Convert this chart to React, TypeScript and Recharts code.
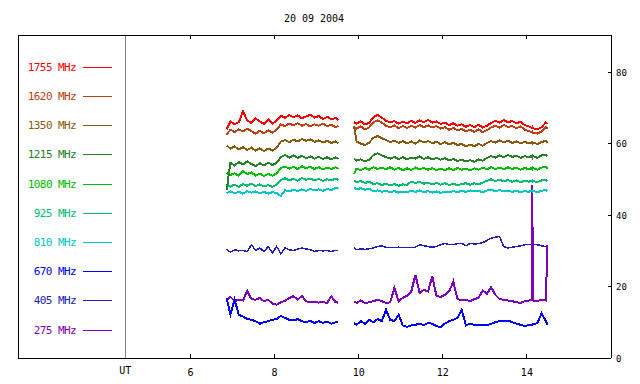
import React from "react";
import { LineChart, Line, XAxis, YAxis, ReferenceLine, Legend } from "recharts";

// UT hours; 9.7 is the data gap between the two observing runs
const hours = [
  6.86, 6.95, 7.05, 7.15, 7.25, 7.35, 7.45, 7.55, 7.65, 7.75,
  7.85, 7.95, 8.05, 8.15, 8.25, 8.35, 8.45, 8.55, 8.65, 8.75,
  8.85, 8.95, 9.05, 9.15, 9.25, 9.35, 9.45, 9.52,
  9.7,
  9.89, 9.95, 10.05, 10.15, 10.25, 10.35, 10.45, 10.55, 10.65, 10.75,
  10.85, 10.95, 11.05, 11.15, 11.25, 11.35, 11.45, 11.55, 11.65, 11.75,
  11.85, 11.95, 12.05, 12.15, 12.25, 12.35, 12.45, 12.55, 12.65, 12.75,
  12.85, 12.95, 13.05, 13.15, 13.25, 13.35, 13.45, 13.55, 13.65, 13.75,
  13.85, 13.95, 14.05, 14.12, 14.13, 14.14, 14.25, 14.35, 14.45, 14.49,
];

const f1755 = [
  64.0, 66.2, 65.4, 66.0, 69.0, 66.5, 65.8, 67.0, 66.2, 65.5,
  66.8, 65.6, 66.4, 67.8, 67.2, 68.0, 67.4, 67.9, 67.1, 67.6,
  68.1, 67.3, 67.7, 66.9, 67.5, 66.8, 67.2, 66.6,
  null,
  66.0, 65.6, 66.2, 65.4, 65.8, 67.4, 68.0, 67.3, 66.4, 65.9,
  66.3, 65.6, 66.1, 65.7, 66.4, 65.8, 66.5, 66.0, 66.6, 65.9,
  66.2, 65.5, 65.9, 65.2, 65.7, 65.0, 65.4, 64.7, 65.2, 64.6,
  65.3, 64.5, 65.0, 65.8, 66.4, 65.9, 66.6, 66.0, 66.3, 65.7,
  66.1, 65.2, 64.8, 64.4, 64.6, 64.3, 64.0, 64.6, 65.9, 65.5,
];
const f1620 = [
  62.5, 63.9, 63.2, 64.0, 63.4, 64.2, 63.5, 62.8, 63.6, 62.9,
  63.7, 63.1, 63.9, 65.4, 64.9, 65.6, 65.1, 65.7, 65.0, 65.5,
  64.8, 65.4, 65.0, 65.6, 64.9, 65.3, 64.6, 65.0,
  null,
  64.6, 64.2, 64.8, 64.0, 64.5, 66.0, 66.5, 65.9, 65.0, 64.6,
  65.1, 64.3, 64.9, 64.4, 65.0, 64.5, 65.2, 64.6, 65.1, 64.5,
  64.9, 64.2, 64.6, 63.9, 64.4, 63.7, 64.1, 63.4, 63.9, 63.3,
  64.0, 63.2, 63.8, 64.5, 65.0, 64.5, 65.2, 64.7, 64.9, 64.3,
  64.8, 63.9, 63.5, 63.1, 63.3, 63.0, 62.8, 63.4, 64.6, 64.2,
];
const f1350 = [
  59.5, 58.6, 59.2, 58.4, 59.0, 58.2, 58.9, 58.0, 58.7, 57.9,
  58.6, 58.1, 58.8, 60.6, 61.0, 60.4, 61.1, 60.6, 61.3, 60.8,
  61.2, 60.5, 60.9, 60.3, 60.8, 60.2, 60.6, 60.1,
  null,
  65.0, 60.6, 60.0, 59.6, 60.3, 61.6, 62.1, 61.5, 61.0, 60.4,
  60.8, 60.2, 60.7, 60.1, 60.6, 60.0, 60.9, 60.3, 60.7, 60.1,
  60.5, 59.9, 60.4, 59.8, 60.2, 59.6, 59.9, 59.2, 59.7, 59.3,
  59.9, 59.4, 60.2, 60.7, 60.3, 60.9, 60.4, 60.8, 60.2, 60.6,
  60.1, 60.5, 60.0, 60.4, 60.1, 60.3, 59.9, 60.5, 60.7, 60.3,
];
const f1215 = [
  47.0, 54.6, 53.9, 54.8, 54.2, 55.0, 54.3, 53.7, 54.5, 53.9,
  54.7, 54.0, 54.6, 56.2, 56.8, 56.1, 56.7, 56.0, 56.6, 55.9,
  56.4, 55.8, 56.3, 55.7, 56.2, 55.6, 56.1, 55.8,
  null,
  55.8, 55.2, 55.6, 55.0, 55.5, 56.8, 57.3, 56.7, 56.2, 55.8,
  56.3, 55.7, 56.2, 55.6, 56.1, 55.8, 56.4, 55.7, 56.2, 55.6,
  56.0, 55.5, 55.9, 55.3, 55.7, 55.1, 55.5, 55.0, 55.4, 54.9,
  55.6, 55.2, 56.0, 56.5, 56.1, 56.7, 56.2, 56.8, 56.3, 56.6,
  56.0, 56.5, 56.1, 56.6, 56.2, 56.5, 56.0, 56.7, 56.9, 56.4,
];
const f1080 = [
  51.8, 51.2, 51.7, 51.0, 52.3, 51.5, 51.9, 51.1, 51.6, 50.9,
  51.5, 51.0, 51.7, 53.2, 53.6, 53.0, 53.5, 52.9, 53.7, 53.1,
  53.5, 52.9, 53.4, 52.8, 53.3, 52.9, 53.4, 53.0,
  null,
  51.5, 53.0, 52.6, 53.2, 52.7, 53.4, 52.9, 53.3, 52.8, 53.4,
  52.7, 53.2, 52.5, 53.1, 52.6, 53.3, 52.8, 53.2, 52.7, 53.1,
  52.6, 53.0, 52.5, 53.1, 52.6, 53.2, 52.7, 53.0, 52.5, 53.1,
  52.7, 53.3, 52.8, 53.4, 52.9, 53.3, 52.8, 53.4, 52.9, 53.3,
  52.7, 53.2, 52.8, 53.3, 52.9, 53.2, 52.7, 53.3, 53.5, 53.0,
];
const f925 = [
  48.6, 48.0, 48.5, 47.9, 48.7, 48.2, 48.8, 48.1, 48.6, 48.0,
  48.4, 47.9, 48.5, 49.8, 50.3, 49.7, 50.2, 49.6, 50.4, 49.9,
  50.2, 49.7, 50.1, 49.6, 50.0, 49.7, 50.2, 49.8,
  null,
  49.6, 49.2, 49.5, 49.0, 49.3, 48.7, 48.9, 48.4, 48.8, 48.3,
  48.7, 48.2, 48.6, 48.4, 49.4, 49.0, 49.3, 48.8, 49.1, 48.6,
  49.0, 48.5, 48.9, 48.4, 48.8, 48.3, 48.7, 48.9, 48.5, 48.9,
  48.6, 49.1, 49.6, 50.0, 49.5, 49.9, 49.4, 49.8, 49.3, 49.7,
  49.2, 49.6, 49.3, 49.7, 49.4, 49.6, 49.2, 49.7, 49.9, 49.5,
];
const f810 = [
  46.2, 46.6, 46.1, 46.5, 46.0, 46.7, 46.3, 46.6, 46.1, 46.5,
  46.0, 46.4, 46.2, 45.3, 47.0, 46.6, 47.1, 46.7, 47.2, 46.8,
  47.3, 46.9, 47.2, 46.8, 47.3, 47.0, 47.6, 47.4,
  null,
  47.6, 47.3, 47.5, 47.1, 47.4, 46.6, 46.9, 46.5, 46.8, 46.4,
  46.7, 46.3, 46.6, 46.4, 46.8, 46.5, 46.9, 46.4, 46.7, 46.3,
  46.6, 46.2, 46.5, 46.3, 46.7, 46.4, 46.8, 46.5, 46.9, 46.6,
  46.8, 46.4, 46.9, 47.1, 46.7, 47.0, 46.6, 46.9, 46.5, 46.8,
  46.4, 46.7, 46.5, 46.9, 46.6, 46.8, 46.4, 46.8, 47.0, 46.7,
];
const f670 = [
  16.8, 12.2, 16.3, 12.1, 11.6, 10.9, 10.7, 10.3, 9.6, 10.0,
  10.3, 10.7, 10.9, 11.8, 11.2, 10.7, 10.5, 10.9, 10.3, 10.0,
  10.4, 9.8, 10.3, 9.8, 10.2, 9.6, 10.0, 10.0,
  null,
  9.8, 9.3, 10.3, 9.6, 10.7, 10.0, 10.9, 10.3, 13.5, 10.7,
  10.3, 12.1, 9.1, 8.7, 9.1, 9.3, 9.6, 9.2, 9.8, 9.6,
  8.9, 8.7, 9.6, 10.3, 10.7, 11.2, 13.5, 9.1, 9.6, 9.3,
  9.3, 9.1, 9.2, 9.6, 10.0, 10.3, 10.3, 10.5, 10.0, 9.6,
  9.3, 8.9, 9.3, 9.1, 9.2, 9.4, 9.8, 12.5, 10.3, 9.3,
];
const f405 = [
  30.5, 29.6, 30.3, 30.0, 30.1, 29.8, 31.7, 30.1, 30.8, 29.7,
  31.2, 29.4, 31.2, 29.2, 30.8, 30.3, 30.1, 30.5, 30.8, 30.5,
  30.3, 29.8, 30.1, 30.0, 30.1, 29.8, 30.1, 30.1,
  null,
  30.8, 30.3, 30.5, 30.4, 30.6, 30.8, 31.2, 31.4, 31.0, 30.9,
  30.9, 31.0, 30.9, 30.9, 30.9, 31.0, 31.7, 31.4, 31.2, 31.0,
  31.2, 31.7, 32.1, 31.7, 31.7, 32.0, 32.1, 31.4, 32.1, 31.9,
  32.0, 32.3, 32.9, 33.5, 33.8, 34.0, 31.2, 30.8, 31.0, 31.2,
  31.4, 31.7, 31.7, 31.7, 31.6, 31.7, 31.7, 31.4, 31.2, 30.8,
];
const f275 = [
  16.3, 17.1, 15.9, 16.3, 16.1, 18.8, 16.5, 16.3, 16.8, 15.9,
  16.3, 15.2, 14.9, 15.6, 16.0, 16.8, 17.3, 16.3, 17.4, 15.9,
  15.6, 15.8, 15.5, 15.7, 15.4, 17.3, 15.6, 15.5,
  null,
  15.9, 15.4, 16.1, 15.4, 15.6, 15.9, 16.3, 15.9, 15.4, 15.6,
  19.6, 15.9, 16.8, 17.4, 18.6, 23.3, 18.2, 19.1, 18.6, 22.9,
  17.4, 17.1, 17.7, 18.6, 21.4, 16.5, 16.1, 16.3, 15.9, 16.5,
  16.8, 18.9, 18.0, 19.8, 17.7, 16.5, 16.3, 16.1, 15.9, 15.6,
  15.4, 15.9, 16.1, 16.1, 48.5, 16.1, 16.0, 16.3, 16.1, 31.7,
];

// legend order, top to bottom
const SERIES = [
  { key: "f1755", label: "1755 MHz", color: "#ff0000", values: f1755, width: 2 },
  { key: "f1620", label: "1620 MHz", color: "#c04010", values: f1620, width: 2 },
  { key: "f1350", label: "1350 MHz", color: "#8b5a0f", values: f1350, width: 2 },
  { key: "f1215", label: "1215 MHz", color: "#268226", values: f1215, width: 2 },
  { key: "f1080", label: "1080 MHz", color: "#00c000", values: f1080, width: 2 },
  { key: "f925", label: "925 MHz", color: "#00c070", values: f925, width: 2 },
  { key: "f810", label: "810 MHz", color: "#00c8c8", values: f810, width: 2 },
  { key: "f670", label: "670 MHz", color: "#0000ff", values: f670, width: 2 },
  { key: "f405", label: "405 MHz", color: "#2020c0", values: f405, width: 1.5 },
  { key: "f275", label: "275 MHz", color: "#8000c0", values: f275, width: 2 },
];
// drawing order, first is painted underneath
const DRAW_ORDER = ["f405", "f275", "f670", "f810", "f925", "f1080", "f1215", "f1350", "f1620", "f1755"];

const UT_HOUR = 4.45;
const bottomTicks = [UT_HOUR, 6, 8, 10, 12, 14];
const topTicks = [6, 8, 10, 12, 14];
const yTicks = [0, 20, 40, 60, 80];

const rows = hours.map((t, i) => {
  const r: Record<string, number | null> = { t };
  SERIES.forEach((s) => (r[s.key] = s.values[i]));
  return r;
});

const FONT = '"DejaVu Sans Mono", monospace';
const TOP = 35;
const BOTTOM = 358;
const RIGHT = 611;

const bottomTick = (p: any) => {
  const v = p.payload.value;
  if (v === UT_HOUR) {
    return (
      <text x={p.x} y={374} textAnchor="middle" fontFamily={FONT} fontSize={10} fill="#000">
        UT
      </text>
    );
  }
  return (
    <g>
      <line x1={p.x} x2={p.x} y1={BOTTOM} y2={BOTTOM - 4} stroke="#000" shapeRendering="crispEdges" />
      <text x={p.x} y={376} textAnchor="middle" fontFamily={FONT} fontSize={10} fill="#000">
        {v}
      </text>
    </g>
  );
};

const topTick = (p: any) => (
  <line x1={p.x} x2={p.x} y1={TOP} y2={TOP + 4} stroke="#000" shapeRendering="crispEdges" />
);

const rightTick = (p: any) => (
  <g>
    <line x1={RIGHT - 3} x2={RIGHT} y1={p.y} y2={p.y} stroke="#000" shapeRendering="crispEdges" />
    <text x={616} y={p.y + 3.5} textAnchor="start" fontFamily={FONT} fontSize={9} fill="#000">
      {p.payload.value}
    </text>
  </g>
);

const LegendBox = () => (
  <div style={{ position: "relative", width: 125, height: 384, fontFamily: FONT, fontSize: 11 }}>
    {SERIES.map((s, i) => (
      <div
        key={s.key}
        style={{
          position: "absolute",
          left: 0,
          top: 67.3 + i * 29.2 - 7,
          height: 14,
          display: "flex",
          alignItems: "center",
        }}
      >
        <span style={{ width: 76, textAlign: "right", color: s.color, letterSpacing: -0.6, whiteSpace: "pre" }}>
          {s.label}
        </span>
        <span style={{ marginLeft: 7, width: 29, height: 0, borderTop: `1px solid ${s.color}` }} />
      </div>
    ))}
  </div>
);

export default function App() {
  return (
    <div style={{ position: "absolute", left: 0, top: 0, width: 640, height: 384, background: "#fff" }}>
      <div
        style={{
          position: "absolute",
          left: 0,
          top: 13,
          width: 628,
          textAlign: "center",
          fontFamily: FONT,
          fontSize: 10,
          color: "#000",
        }}
      >
        20 09 2004
      </div>
      <LineChart width={640} height={384} data={rows} margin={{ top: 0, right: 0, bottom: 0, left: 0 }}>
        <XAxis
          dataKey="t"
          type="number"
          domain={[1.9, 16.0]}
          allowDataOverflow
          ticks={bottomTicks}
          interval={0}
          height={26}
          tickLine={false}
          axisLine={{ stroke: "#000", shapeRendering: "crispEdges" }}
          tick={bottomTick}
        />
        <XAxis
          xAxisId="top"
          orientation="top"
          dataKey="t"
          type="number"
          domain={[1.9, 16.0]}
          allowDataOverflow
          ticks={topTicks}
          interval={0}
          height={TOP}
          tickLine={false}
          axisLine={{ stroke: "#000", shapeRendering: "crispEdges" }}
          tick={topTick}
        />
        <YAxis
          orientation="right"
          type="number"
          domain={[0, 90.4]}
          allowDataOverflow
          ticks={yTicks}
          interval={0}
          width={29}
          tickLine={false}
          axisLine={{ stroke: "#000", shapeRendering: "crispEdges" }}
          tick={rightTick}
        />
        <YAxis
          yAxisId="left"
          orientation="left"
          type="number"
          domain={[0, 90.4]}
          width={18}
          tick={false}
          tickLine={false}
          axisLine={{ stroke: "#000", shapeRendering: "crispEdges" }}
        />
        <ReferenceLine x={UT_HOUR} stroke="#808080" shapeRendering="crispEdges" />
        <Legend
          layout="vertical"
          align="center"
          verticalAlign="middle"
          wrapperStyle={{ left: 0, top: 0, width: 125, height: 384 }}
          content={() => <LegendBox />}
        />
        {DRAW_ORDER.map((k) => {
          const s = SERIES.find((x) => x.key === k)!;
          return (
            <Line
              key={k}
              dataKey={k}
              type="linear"
              stroke={s.color}
              strokeWidth={s.width}
              dot={false}
              activeDot={false}
              isAnimationActive={false}
              shapeRendering="crispEdges"
            />
          );
        })}
      </LineChart>
    </div>
  );
}
